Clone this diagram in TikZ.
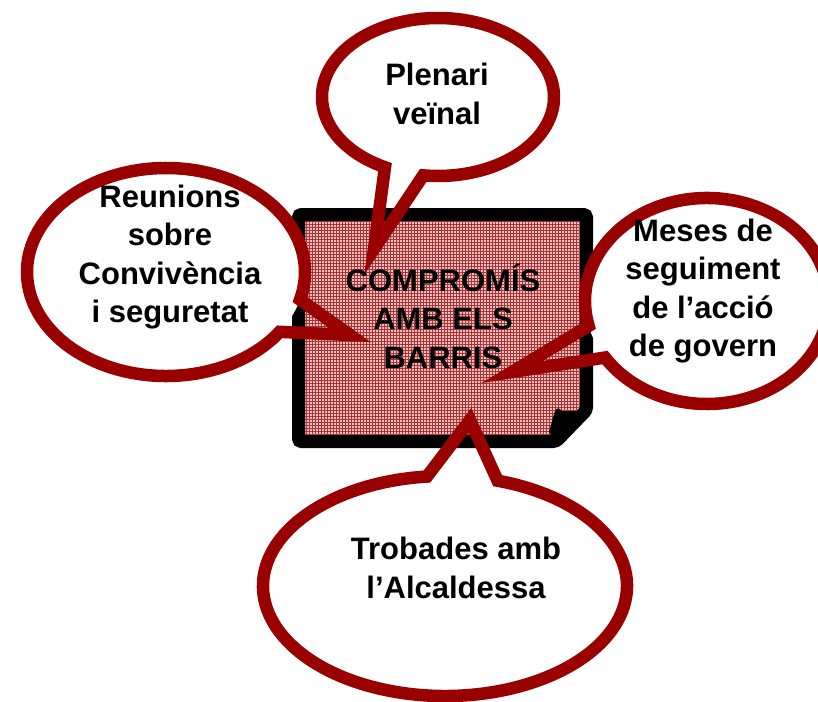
\documentclass[tikz,border=0pt]{standalone}
\usepackage{fontspec}
\setmainfont{Liberation Sans}
\usetikzlibrary{patterns}

\definecolor{bubblered}{RGB}{153,0,0}
\definecolor{notepink}{RGB}{238,194,194}

\begin{document}
\begin{tikzpicture}
  [x=1pt,y=-1pt,
   bubble/.style={draw=bubblered,line width=12.5pt,line join=miter},
   note/.style={draw=black,line width=13pt,rounded corners=3pt},
   txt/.style={font=\fontsize{31}{38.5}\selectfont\bfseries,align=center,inner sep=0pt}]

  \useasboundingbox (0,0) rectangle (818,701);

  % central note
  \draw[note,preaction={fill=notepink},
        preaction={pattern=grid,pattern color=bubblered!80}]
    (298.5,214.5) -- (586.5,214.5) -- (586.5,410) -- (556,441.5)
    -- (298.5,441.5) -- cycle;
  \fill (587,411) -- (562,411) .. controls (558,406) and (555,409) .. (554,414)
    -- (549,432) -- (556,441) -- cycle;

  % bubbles
  \coordinate (topC) at (438,97);
  \coordinate (topTip) at (374,249);
  \coordinate (leftC) at (166,272);
  \coordinate (leftTip) at (350,335);
  \coordinate (rightC) at (707,301);
  \coordinate (rightTip) at (512,372);
  \coordinate (botC) at (445,586);
  \coordinate (botTip) at (470,420);

  \fill[white] (topC) ellipse [x radius=116,y radius=79];
  \draw[bubble] (topC) ++(117.2:116 and 79)
    arc[start angle=117.2,end angle=457.3,x radius=116,y radius=79]
    -- (topTip) -- cycle;

  \fill[white] (leftC) ellipse [x radius=139,y radius=104];
  \draw[bubble] (leftC) ++(35.1:139 and 104)
    arc[start angle=35.1,end angle=375.4,x radius=139,y radius=104]
    -- (leftTip) -- cycle;

  \fill[white] (rightC) ellipse [x radius=122,y radius=103];
  \draw[bubble] (rightC) ++(166:122 and 103)
    arc[start angle=166,end angle=506.7,x radius=122,y radius=103]
    -- (rightTip) -- cycle;

  \fill[white] (botC) ellipse [x radius=182,y radius=110];
  \draw[bubble] (botC) ++(286.8:182 and 110)
    arc[start angle=286.8,end angle=624.3,x radius=182,y radius=110]
    -- (botTip) -- cycle;

  % texts
  \node[txt] (plenari) at (437,94) {Plenari\\veïnal};
  \node[txt] (reunions) at (170,257) {Reunions\\sobre\\Convivència\\i seguretat};
  \node[txt] (meses) at (703,291) {Meses de\\seguiment\\de l’acció\\de govern};
  \node[txt] (trobades) at (456,568) {Trobades amb\\l’Alcaldessa};
  \node[txt] (centre) at (443,316) {COMPROMÍS\\AMB ELS\\BARRIS};

\end{tikzpicture}
\end{document}
